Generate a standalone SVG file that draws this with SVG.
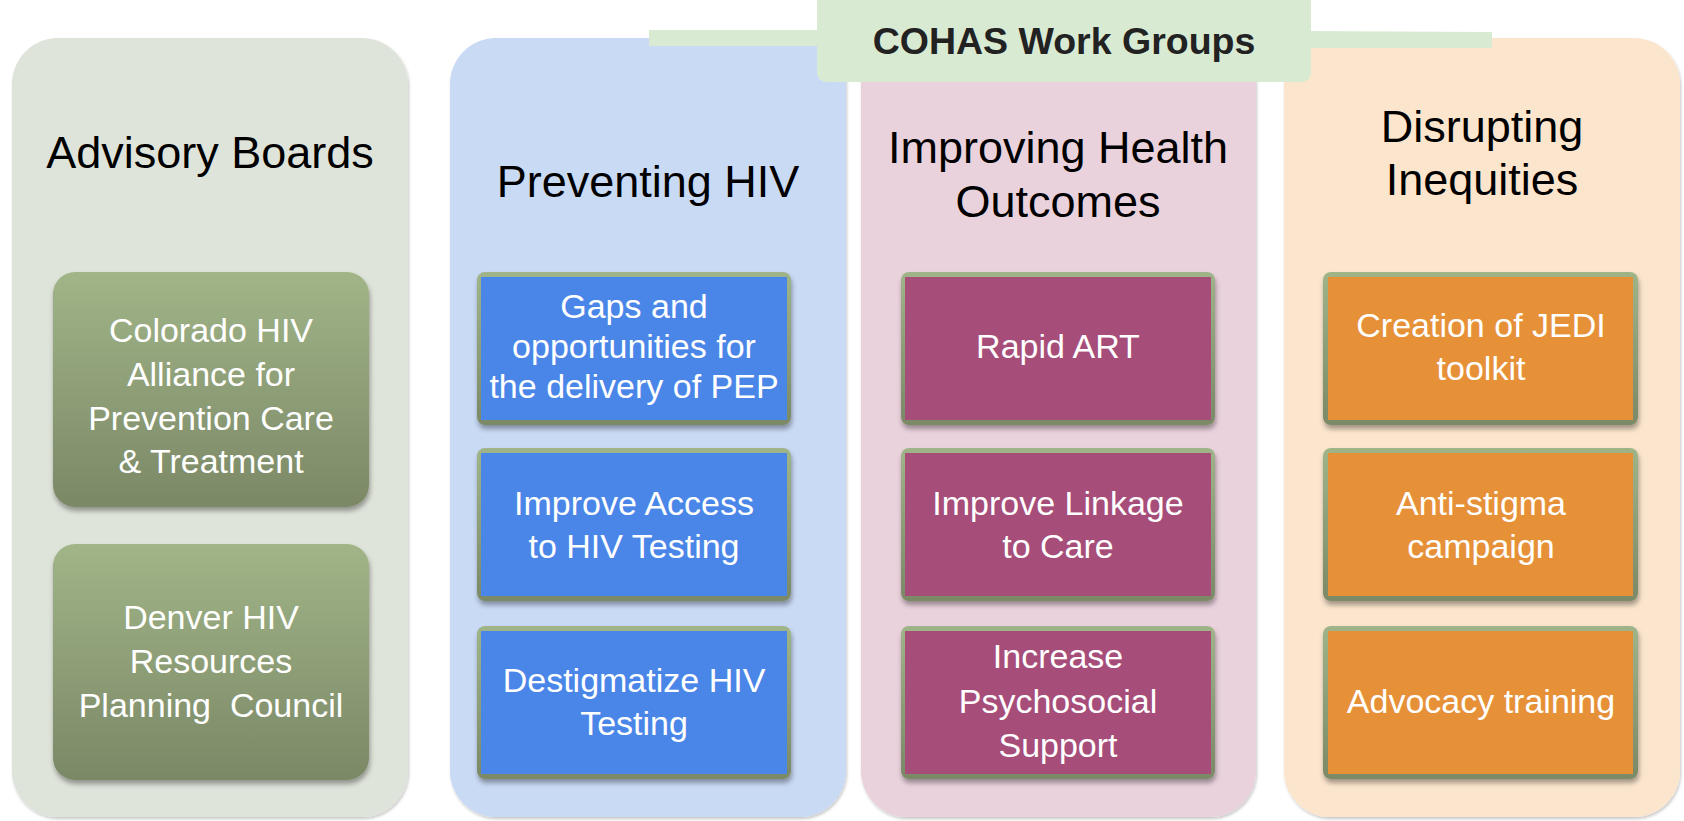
<svg xmlns="http://www.w3.org/2000/svg" width="1684" height="821" viewBox="0 0 1684 821">
  <defs>
    <linearGradient id="frameGrad" x1="0" y1="0" x2="0" y2="1">
      <stop offset="0" stop-color="#9FB489"/>
      <stop offset="1" stop-color="#7B8966"/>
    </linearGradient>
    <linearGradient id="oliveGrad" x1="0" y1="0" x2="0" y2="1">
      <stop offset="0" stop-color="#A1B588"/>
      <stop offset="1" stop-color="#7B8866"/>
    </linearGradient>
    <filter id="panelShadow" x="-5%" y="-5%" width="110%" height="110%">
      <feDropShadow dx="1" dy="2" stdDeviation="1.5" flood-color="#000" flood-opacity="0.22"/>
    </filter>
    <filter id="boxShadow" x="-10%" y="-10%" width="120%" height="125%">
      <feDropShadow dx="1" dy="4" stdDeviation="2.5" flood-color="#000" flood-opacity="0.35"/>
    </filter>
    <style>
      .panel { filter: url(#panelShadow); }
      .head { font-family: "Liberation Sans", Arial, sans-serif; font-size: 45px; fill: #000; text-anchor: middle; }
      .label { font-family: "Liberation Sans", Arial, sans-serif; font-size: 34px; fill: #fff; text-anchor: middle; }
      .frame { fill: url(#frameGrad); filter: url(#boxShadow); }
      .olive { fill: url(#oliveGrad); filter: url(#boxShadow); }
      .blue { fill: #4A86E8; }
      .plum { fill: #A64D79; }
      .amber { fill: #E69138; }
      .banner { fill: #D9EAD3; }
      .bannerText { font-family: "Liberation Sans", Arial, sans-serif; font-weight: bold; font-size: 37.5px; fill: #222; text-anchor: middle; }
    </style>
  </defs>

  <rect width="1684" height="821" fill="#fff"/>

  <!-- Column panels -->
  <g id="advisory-boards">
    <rect class="panel" x="12" y="38" width="396" height="779" rx="46" fill="#DFE4DA"/>
    <text class="head" x="210" y="168">Advisory Boards</text>
  </g>
  <g id="preventing-hiv">
    <rect class="panel" x="450" y="38" width="396" height="779" rx="46" fill="#C9DAF5"/>
    <text class="head" x="648" y="197">Preventing HIV</text>
  </g>
  <g id="improving-health-outcomes">
    <rect class="panel" x="861" y="38" width="395" height="779" rx="46" fill="#EAD2DD"/>
    <text class="head" x="1058" y="163">Improving Health</text>
    <text class="head" x="1058" y="217">Outcomes</text>
  </g>
  <g id="disrupting-inequities">
    <rect class="panel" x="1284" y="38" width="396" height="779" rx="46" fill="#FCE5CD"/>
    <text class="head" x="1482" y="142">Disrupting</text>
    <text class="head" x="1482" y="195">Inequities</text>
  </g>

  <!-- Header banner -->
  <g id="cohas-work-groups">
    <polygon class="banner" points="649,30 830,30 830,46 649,46"/>
    <polygon class="banner" points="1300,31 1492,32 1492,48 1300,48"/>
    <rect class="banner" x="817" y="-10" width="494" height="92" rx="9"/>
    <text class="bannerText" x="1064" y="54">COHAS Work Groups</text>
  </g>

  <!-- Advisory board items -->
  <g id="colorado-hiv-alliance">
    <rect class="olive" x="53" y="272" width="316" height="235" rx="22"/>
    <text class="label" x="211" y="342">Colorado HIV</text>
    <text class="label" x="211" y="386">Alliance for</text>
    <text class="label" x="211" y="430">Prevention Care</text>
    <text class="label" x="211" y="473">&amp; Treatment</text>
  </g>
  <g id="denver-planning-council">
    <rect class="olive" x="53" y="544" width="316" height="236" rx="22"/>
    <text class="label" x="211" y="629">Denver HIV</text>
    <text class="label" x="211" y="673">Resources</text>
    <text class="label" x="211" y="717" xml:space="preserve">Planning  Council</text>
  </g>

  <!-- Preventing HIV items -->
  <g id="pep-delivery">
    <rect class="frame" x="477" y="272" width="314" height="153" rx="8"/>
    <rect class="blue" x="481" y="277" width="306" height="143"/>
    <text class="label" x="634" y="318">Gaps and</text>
    <text class="label" x="634" y="358">opportunities for</text>
    <text class="label" x="634" y="398">the delivery of PEP</text>
  </g>
  <g id="testing-access">
    <rect class="frame" x="477" y="448" width="314" height="153" rx="8"/>
    <rect class="blue" x="481" y="453" width="306" height="143"/>
    <text class="label" x="634" y="515">Improve Access</text>
    <text class="label" x="634" y="558">to HIV Testing</text>
  </g>
  <g id="destigmatize-testing">
    <rect class="frame" x="477" y="626" width="314" height="153" rx="8"/>
    <rect class="blue" x="481" y="631" width="306" height="143"/>
    <text class="label" x="634" y="692">Destigmatize HIV</text>
    <text class="label" x="634" y="735">Testing</text>
  </g>

  <!-- Improving Health Outcomes items -->
  <g id="rapid-art">
    <rect class="frame" x="901" y="272" width="314" height="153" rx="8"/>
    <rect class="plum" x="905" y="277" width="306" height="143"/>
    <text class="label" x="1058" y="358">Rapid ART</text>
  </g>
  <g id="linkage-to-care">
    <rect class="frame" x="901" y="448" width="314" height="153" rx="8"/>
    <rect class="plum" x="905" y="453" width="306" height="143"/>
    <text class="label" x="1058" y="515">Improve Linkage</text>
    <text class="label" x="1058" y="558">to Care</text>
  </g>
  <g id="psychosocial-support">
    <rect class="frame" x="901" y="626" width="314" height="153" rx="8"/>
    <rect class="plum" x="905" y="631" width="306" height="143"/>
    <text class="label" x="1058" y="668">Increase</text>
    <text class="label" x="1058" y="713">Psychosocial</text>
    <text class="label" x="1058" y="757">Support</text>
  </g>

  <!-- Disrupting Inequities items -->
  <g id="jedi-toolkit">
    <rect class="frame" x="1323" y="272" width="315" height="153" rx="8"/>
    <rect class="amber" x="1328" y="277" width="305" height="143"/>
    <text class="label" x="1481" y="337">Creation of JEDI</text>
    <text class="label" x="1481" y="380">toolkit</text>
  </g>
  <g id="anti-stigma-campaign">
    <rect class="frame" x="1323" y="448" width="315" height="153" rx="8"/>
    <rect class="amber" x="1328" y="453" width="305" height="143"/>
    <text class="label" x="1481" y="515">Anti-stigma</text>
    <text class="label" x="1481" y="558">campaign</text>
  </g>
  <g id="advocacy-training">
    <rect class="frame" x="1323" y="626" width="315" height="153" rx="8"/>
    <rect class="amber" x="1328" y="631" width="305" height="143"/>
    <text class="label" x="1481" y="713">Advocacy training</text>
  </g>

  <!-- No connectors in this layout -->
  <g id="connectors"/>
</svg>
